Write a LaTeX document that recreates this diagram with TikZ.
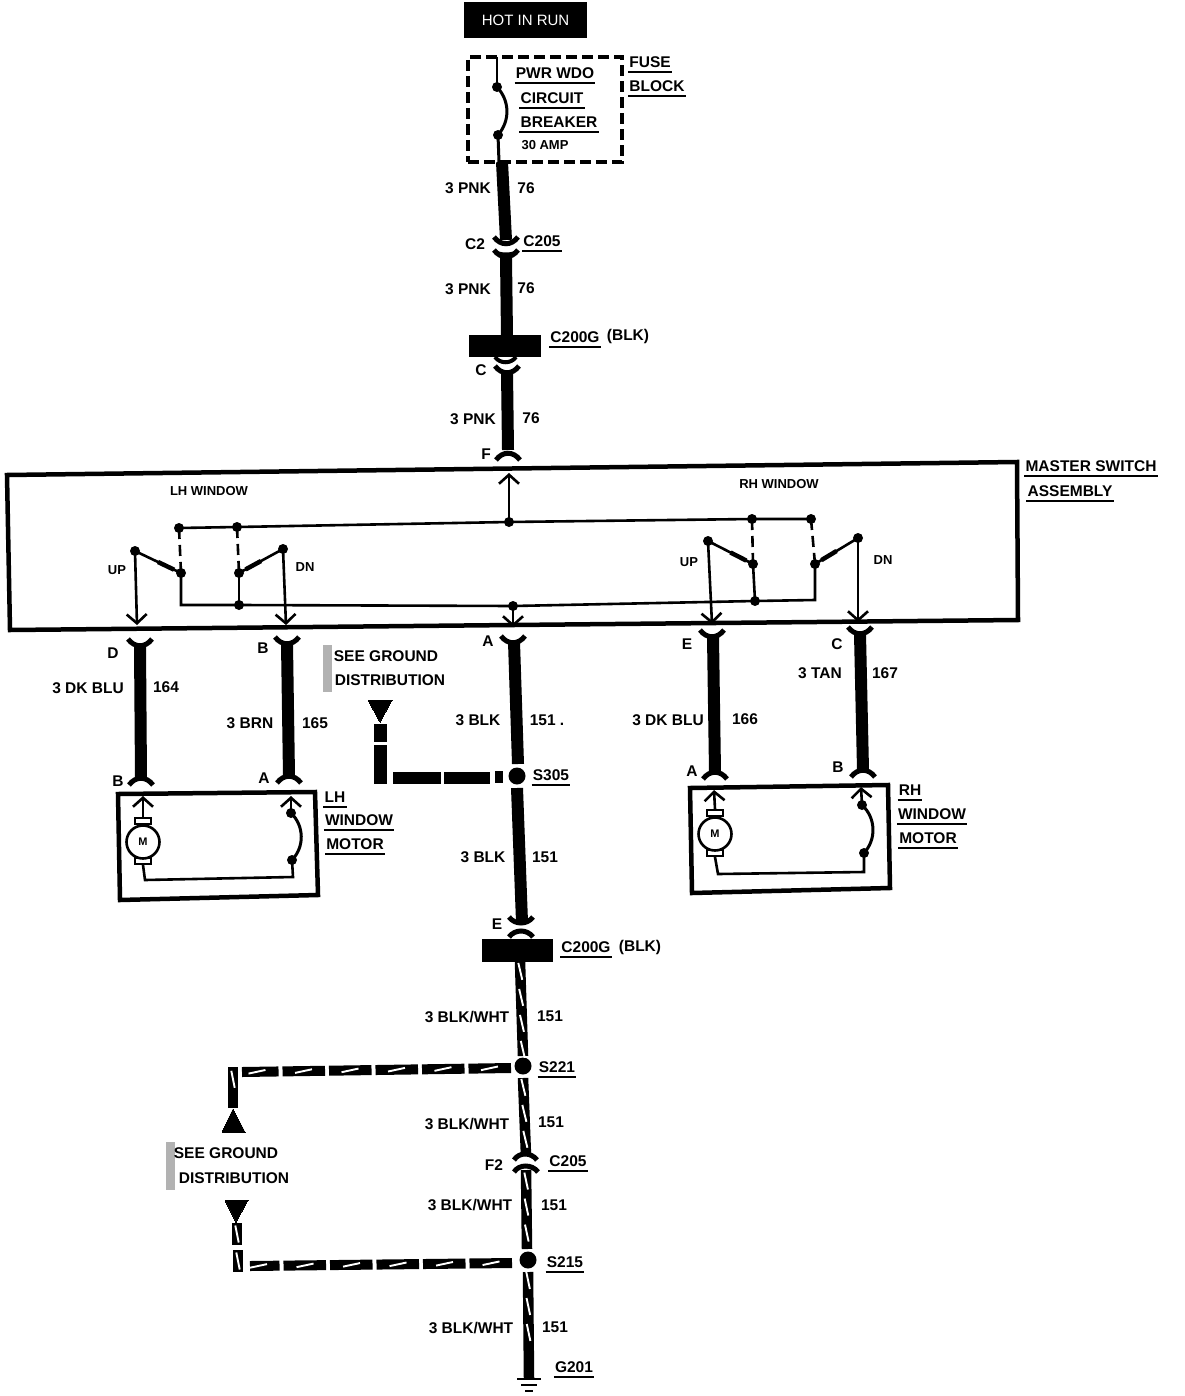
\documentclass[tikz,border=0pt]{standalone}
\usepackage{fontspec}
\setmainfont{Liberation Sans}
\usetikzlibrary{arrows.meta,calc,decorations.markings}
\tikzset{
 lab/.style={inner sep=0pt,font=\fontsize{15.5}{16}\bfseries\selectfont,text=black},
 smlab/.style={inner sep=0pt,font=\fontsize{13}{14}\bfseries\selectfont,text=black},
 jdot/.style={circle,fill=black,inner sep=0pt,minimum size=10pt},
 sdot/.style={circle,fill=black,inner sep=0pt,minimum size=17pt},
 wireK/.style={line width=12pt,black},
 thinw/.style={line width=2.6pt,black},
 dashw/.style={line width=2.6pt,black,dash pattern=on 11pt off 6pt},
 blade/.style={line width=4.5pt,black},
 ulin/.style={line width=2.4pt,black},
 forkw/.style={line width=5pt,black},
 arrw/.style={line width=2.6pt,black,-{Straight Barb[length=9pt,width=20pt,line width=2.6pt]}},
 boxw/.style={line width=4.5pt,black,line join=miter},
 stripes/.style={postaction={decorate,decoration={markings,mark=between positions #1 with {\draw[white,line width=1.9pt] (-8.5pt,-1.7pt)--(8.5pt,1.7pt);}}}},
 wireS/.style={line width=10.5pt,black},
 wireH/.style={line width=10pt,black,dash pattern=on 42.5pt off 4pt},
}
\newcommand{\wrr}[5][wireK]{\coordinate (#2a) at (#3); \coordinate (#2b) at (#4); \draw[#1,#5] (#2a) -- (#2b);}
\newcommand{\ulx}[3]{\node[lab] (#1) at (#2) {#3}; \draw[ulin] ([xshift=-1pt,yshift=-4.5pt]#1.south west) -- ([xshift=1pt,yshift=-4.5pt]#1.south east);}
\newcommand{\capf}[3]{\draw[forkw] (#1-#3,#2+9) .. controls (#1-#3*0.45,#2) and (#1+#3*0.45,#2) .. (#1+#3,#2+9);}
\newcommand{\cupf}[3]{\draw[forkw] (#1-#3,#2-9) .. controls (#1-#3*0.45,#2) and (#1+#3*0.45,#2) .. (#1+#3,#2-9);}
\begin{document}
\begin{tikzpicture}[x=1pt,y=-1pt]
\fill[white] (0,0) rectangle (1184,1396);
\useasboundingbox (0,0) rectangle (1184,1396);
% hot box
\node[fill=black,text=white,minimum width=123pt,minimum height=36pt,inner sep=0pt,font=\fontsize{15}{16}\selectfont] (hot) at (525.5,20) {HOT IN RUN};
% fuse block
\node[draw,line width=4pt,dash pattern=on 11pt off 5pt,minimum width=154pt,minimum height=105pt,inner sep=0pt] (fuse) at (545,109.5) {};
\node[jdot] (cb1) at (497,87) {};
\node[jdot] (cb2) at (498,135) {};
\coordinate (cbt) at (497,57);
\coordinate (cbb) at (499,162);
\draw[thinw] (cbt) -- (cb1.center);
\draw[line width=3pt] (cb1.center) to[bend left=42] (cb2.center);
\draw[line width=3pt] (cb2.center) -- (cbb);
\ulx{pwr}{555,73}{PWR WDO}
\ulx{circ}{552,98}{CIRCUIT}
\ulx{brk}{559,122}{BREAKER}
\node[smlab] (amp) at (545,145) {30 AMP};
\ulx{fu}{650,62}{FUSE}
\ulx{bl}{657,86}{BLOCK}
% top wires
\wrr{w1}{502,162}{506,240}{}
\cupf{506}{246}{12}
\draw[line width=3pt] (494,251) .. controls (500,255) and (512,255) .. (518,251);
\wrr{w2}{506,258}{507,336}{}
\cupf{506}{259}{12}
\node[lab] (p1) at (468,188) {3 PNK};
\node[lab] (n1) at (526,188) {76};
\node[lab] (c2) at (475,244) {C2};
\ulx{c205a}{542,241}{C205}
\node[lab] (p2) at (468,289) {3 PNK};
\node[lab] (n2) at (526,288) {76};
\node[fill=black,minimum width=72pt,minimum height=22pt,inner sep=0pt] (blk1) at (505,346) {};
\draw[line width=4pt] (495,357) .. controls (500,364) and (511,364) .. (516,357);
\ulx{cg1}{575,337}{C200G}
\node[lab] (bk1) at (628,336) {(BLK)};
\node[lab] (c3) at (481,370) {C};
\cupf{507}{375}{12}
\wrr{w3}{507,372}{508,450}{}
\capf{508}{451}{12}
\node[lab] (p3) at (473,419) {3 PNK};
\node[lab] (n3) at (531,418) {76};
\node[lab] (ff) at (486,454) {F};
% master switch box
\draw[boxw] (7,475) coordinate (m1) -- (1017,462) coordinate (m2) -- (1018,620) coordinate (m3) -- (10,630) coordinate (m4) -- cycle;
\node[smlab] (lhw) at (209,491) {LH WINDOW};
\node[smlab] (rhw) at (779,484) {RH WINDOW};
\ulx{ms}{1091,466}{MASTER SWITCH}
\ulx{asm}{1070,491}{ASSEMBLY}
\foreach \n/\p in {a1/{179,528},a2/{237,527},a3/{509,522},a4/{752,519},a5/{811,519},
 k1/{135,551},p1d/{181,573},p2d/{239,573},k2/{283,549},
 k3/{708,541},p3d/{753,564},p4d/{815,564},k4/{858,538},
 b2/{239,605},b3/{513,606},b4/{755,601}}
  {\node[jdot] (\n) at (\p) {};}
\coordinate (b1) at (181,605);
\coordinate (b5) at (815,600);
\draw[thinw] (a1.center) -- (a2.center) -- (a3.center) -- (a4.center) -- (a5.center);
\draw[thinw] (p1d.center) -- (b1) -- (b2.center) -- (b3.center) -- (b4.center) -- (b5) -- (p4d.center);
\draw[thinw] (p2d.center) -- (b2.center);
\draw[thinw] (p3d.center) -- (b4.center);
\draw[dashw] (a1.center) -- (p1d.center);
\draw[dashw] (a2.center) -- (p2d.center);
\draw[dashw] (a4.center) -- (p3d.center);
\draw[dashw] (a5.center) -- (p4d.center);
\foreach \kk/\qq in {k1/p1d,k2/p2d,k3/p3d,k4/p4d}{
 \draw[thinw] (\kk.center) -- (\qq.center);
 \draw[blade] ($(\kk)!.5!(\qq)$) -- ($(\kk)!.85!(\qq)$);
}
\coordinate (t1) at (137,625); \coordinate (t2) at (286,625); \coordinate (t3) at (509,473);
\coordinate (t4) at (513,627); \coordinate (t5) at (712,624); \coordinate (t6) at (858,622);
\draw[arrw] (k1.center) -- (t1);
\draw[arrw] (k2.center) -- (t2);
\draw[arrw] (a3.center) -- (t3);
\draw[arrw] (b3.center) -- (t4);
\draw[arrw] (k3.center) -- (t5);
\draw[arrw] (k4.center) -- (t6);
\node[smlab] (up1) at (117,570) {UP};
\node[smlab] (dn1) at (305,567) {DN};
\node[smlab] (up2) at (689,562) {UP};
\node[smlab] (dn2) at (883,560) {DN};
% lower wires
\cupf{140}{648}{12}\wrr{d1}{140,646}{141,778}{}\capf{141}{776}{12}
\cupf{287}{646}{12}\wrr{d2}{287,644}{289,776}{}\capf{289}{774}{12}
\cupf{513}{645}{12}\wrr{d3}{514,642}{518,764}{}
\cupf{712}{639}{12}\wrr{d4}{713,637}{715,772}{}\capf{715}{770}{12}
\cupf{860}{636}{12}\wrr{d5}{860,634}{863,770}{}\capf{863}{768}{12}
\node[lab] (ld) at (113,653) {D};
\node[lab] (l3a) at (88,688) {3 DK BLU};
\node[lab] (n4) at (166,687) {164};
\node[lab] (lb1) at (263,648) {B};
\node[lab] (l3b) at (250,723) {3 BRN};
\node[lab] (n5) at (315,723) {165};
\node[lab] (la) at (488,641) {A};
\node[lab] (l3c) at (478,720) {3 BLK};
\node[lab] (n6) at (547,720) {151 .};
\node[lab] (le) at (687,644) {E};
\node[lab] (l3d) at (668,720) {3 DK BLU};
\node[lab] (n7) at (745,719) {166};
\node[lab] (lc) at (837,644) {C};
\node[lab] (l3e) at (820,673) {3 TAN};
\node[lab] (n8) at (885,673) {167};
\node[lab] (lb2) at (118,781) {B};
\node[lab] (la2) at (264,778) {A};
\node[lab] (la3) at (692,771) {A};
\node[lab] (lb3) at (838,767) {B};
% see ground 1
\fill[black!30] (323,645) rectangle (332,692);
\node[lab] (sg1) at (386,656) {SEE GROUND};
\node[lab] (sd1) at (390,680) {DISTRIBUTION};
\draw[fill=black,line width=0pt] (368,700) coordinate (tr1) -- (392,700) -- (380,722) -- cycle;
\node[sdot] (s305) at (517,776) {};
\coordinate (g1) at (380,724);\coordinate (g2) at (380,742);\coordinate (g3) at (380,745);\coordinate (g4) at (380,784);
\draw[line width=13pt] (g1) -- (g2);
\draw[line width=13pt] (g3) -- (g4);
\coordinate (g5) at (393,777.5);\coordinate (g6) at (441,777.5);\coordinate (g7) at (444,777.5);\coordinate (g8) at (490,777.5);\coordinate (g9) at (495,777);\coordinate (g10) at (503,777);
\draw[line width=12pt] (g5) -- (g6);
\draw[line width=12pt] (g7) -- (g8);
\draw[line width=12pt] (g9) -- (g10);
\ulx{ts305}{551,775}{S305}
\wrr{d6}{517,788}{522,922}{}
\node[lab] (l3f) at (483,857) {3 BLK};
\node[lab] (n9) at (545,857) {151};
\node[lab] (le2) at (497,924) {E};
\draw[forkw] (509,917) .. controls (515,925) and (527,925) .. (533,917);
\draw[forkw] (509,937) .. controls (515,929) and (527,929) .. (533,937);
\node[fill=black,minimum width=71pt,minimum height=23pt,inner sep=0pt] (blk2) at (517.5,950.5) {};
\ulx{cg2}{586,947}{C200G}
\node[lab] (bk2) at (640,947) {(BLK)};
% LH motor
\draw[boxw] (118,794) -- (315,792) -- (318,895) -- (120,900) -- cycle;
\node[circle,draw,line width=2.6pt,minimum size=33pt,inner sep=0pt,font=\fontsize{11}{12}\bfseries\selectfont] (m1m) at (143,842) {M};
\node[draw,line width=2pt,minimum width=16pt,minimum height=6pt,inner sep=0pt] (m1t) at (143,821) {};
\node[draw,line width=2pt,minimum width=16pt,minimum height=6pt,inner sep=0pt] (m1b) at (143,861) {};
\node[jdot] (q1) at (291,813) {};
\node[jdot] (q2) at (292,860) {};
\coordinate (e1) at (143,796);\coordinate (e2) at (291,796);\coordinate (e3) at (145,880);\coordinate (e4) at (293,877);
\draw[arrw] (m1t.north) -- (e1);
\draw[arrw] (q1.center) -- (e2);
\draw[line width=3pt] (q1.center) to[bend left=45] (q2.center);
\draw[thinw] (m1b.south) -- (e3) -- (e4) -- (q2.center);
\ulx{t1a}{335,797}{LH}\ulx{t1b}{359,820}{WINDOW}\ulx{t1c}{355,844}{MOTOR}
% RH motor
\draw[boxw] (690,788) -- (888,785) -- (890,888) -- (692,893) -- cycle;
\node[circle,draw,line width=2.6pt,minimum size=33pt,inner sep=0pt,font=\fontsize{11}{12}\bfseries\selectfont] (m2m) at (715,834) {M};
\node[draw,line width=2pt,minimum width=16pt,minimum height=6pt,inner sep=0pt] (m2t) at (715,813) {};
\node[draw,line width=2pt,minimum width=16pt,minimum height=6pt,inner sep=0pt] (m2b) at (715,853) {};
\node[jdot] (q3) at (862,805) {};
\node[jdot] (q4) at (864,853) {};
\coordinate (f1) at (714,790);\coordinate (f2) at (861,787);\coordinate (f3) at (718,874);\coordinate (f4) at (864,872);
\draw[arrw] (m2t.north) -- (f1);
\draw[arrw] (q3.center) -- (f2);
\draw[line width=3pt] (q3.center) to[bend left=45] (q4.center);
\draw[thinw] (m2b.south) -- (f3) -- (f4) -- (q4.center);
\ulx{t2a}{910,790}{RH}\ulx{t2b}{932,814}{WINDOW}\ulx{t2c}{928,838}{MOTOR}
% striped main
\node[sdot] (s221) at (523,1066) {};
\node[sdot] (s215) at (528,1260) {};
\wrr[wireS]{v1}{520,962}{523,1056}{stripes={0.1 and 0.95 step 26pt}}
\wrr[wireS]{v2}{523,1078}{526,1156}{stripes={0.12 and 0.95 step 26pt}}
\draw[forkw] (514,1160) .. controls (519,1152) and (531,1152) .. (537,1160);
\draw[forkw] (514,1172) .. controls (519,1164) and (532,1164) .. (538,1172);
\wrr[wireS]{v3}{526,1170}{527,1249}{stripes={0.14 and 0.95 step 26pt}}
\wrr[wireS]{v4}{528,1272}{529,1378}{stripes={0.08 and 0.8 step 26pt}}
\draw[line width=2.6pt] (517,1379) coordinate (gd1) -- (541,1379) coordinate (gd2);
\draw[line width=2.6pt] (521,1385) coordinate (gd3) -- (537,1385) coordinate (gd4);
\draw[line width=2.6pt] (525,1391) coordinate (gd5) -- (533,1391) coordinate (gd6);
\node[lab] (lw1) at (467,1017) {3 BLK/WHT};
\node[lab] (n10) at (550,1016) {151};
\ulx{ts221}{557,1067}{S221}
\node[lab] (lw2) at (467,1124) {3 BLK/WHT};
\node[lab] (n11) at (551,1122) {151};
\node[lab] (lf2) at (494,1165) {F2};
\ulx{c205b}{568,1161}{C205}
\node[lab] (lw3) at (470,1205) {3 BLK/WHT};
\node[lab] (n12) at (554,1205) {151};
\ulx{ts215}{565,1262}{S215}
\node[lab] (lw4) at (471,1328) {3 BLK/WHT};
\node[lab] (n13) at (555,1327) {151};
\ulx{g201}{574,1367}{G201}
% ground branches
\wrr[wireH]{h1}{511,1068}{242,1072}{stripes={0.08 and 0.99 step 46.5pt}}
\wrr[wireS]{h2}{233,1067}{233,1108}{stripes={0.3 and 0.8 step 40pt}}
\draw[fill=black,line width=0pt] (233,1109) coordinate (tr2) -- (245,1132) -- (222,1132) -- cycle;
\fill[black!30] (166,1142) rectangle (175,1190);
\node[lab] (sg2) at (226,1153) {SEE GROUND};
\node[lab] (sd2) at (234,1178) {DISTRIBUTION};
\draw[fill=black,line width=0pt] (225,1200) coordinate (tr3) -- (248,1200) -- (236,1222) -- cycle;
\wrr[wireS]{h3}{237,1223}{237,1245}{stripes={0.5 and 0.8 step 40pt}}
\wrr[wireS]{h4}{238,1250}{238,1272}{stripes={0.5 and 0.8 step 40pt}}
\wrr[wireH]{h5}{512,1263}{250,1266}{stripes={0.08 and 0.99 step 46.5pt}}
\end{tikzpicture}
\end{document}
